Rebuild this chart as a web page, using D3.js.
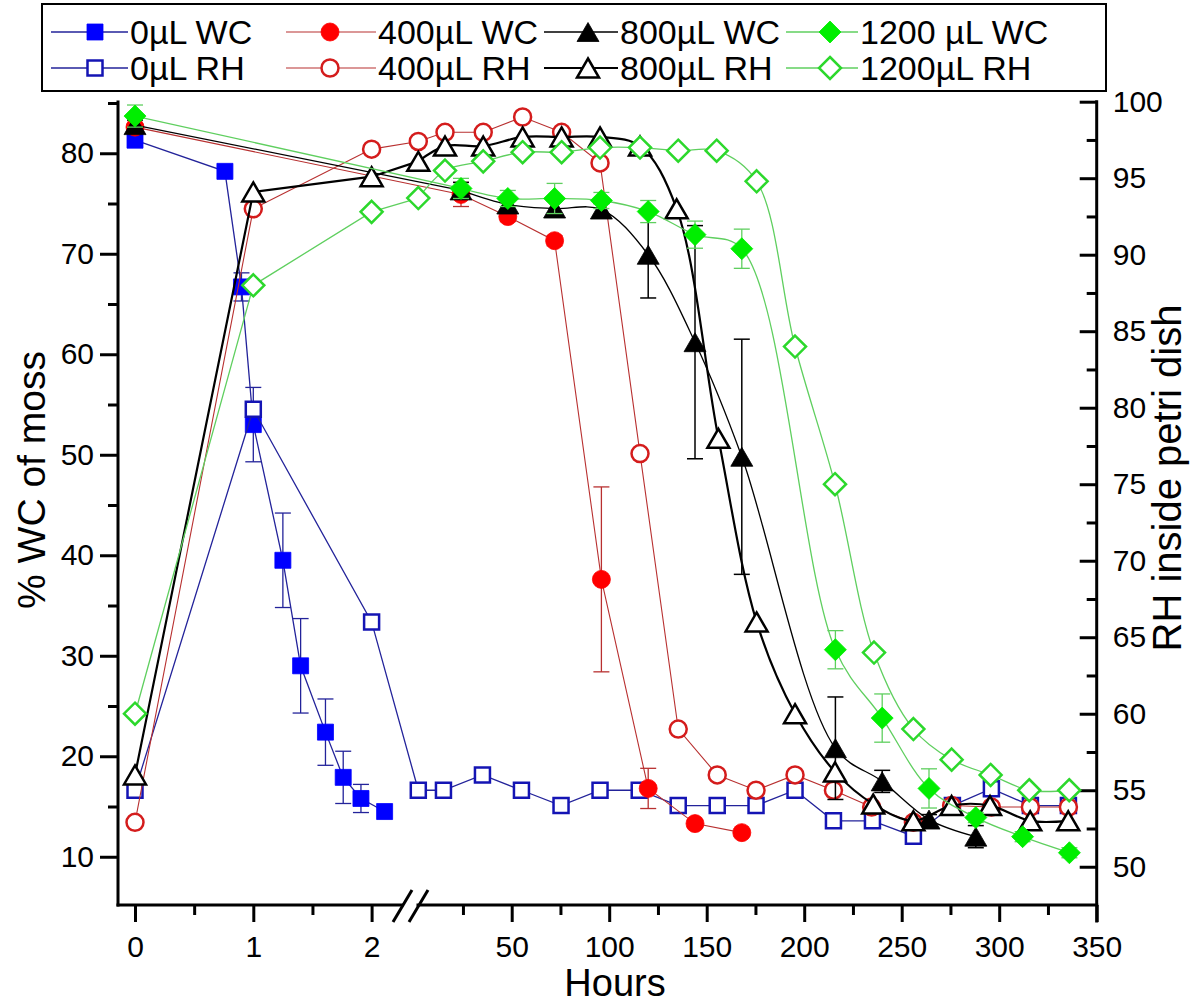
<!DOCTYPE html>
<html><head><meta charset="utf-8">
<script src="https://cdn.jsdelivr.net/npm/d3@7"></script>
<style>
body{margin:0;background:#fff}
svg{display:block;background:#fff}
text{font-family:"Liberation Sans",Arial,Helvetica,sans-serif;fill:#000}
</style>
</head><body>
<svg id="c" width="1193" height="1006"></svg>
<script>
// ---------------- data ----------------
// tick values
const hoursEarlyTicks = [0, 1, 2];
const hoursEarlyMinor = [0.5, 1.5];
const hoursLateTicks = [50, 100, 150, 200, 250, 300, 350];
const hoursLateMinor = [25, 75, 125, 175, 225, 275, 325];
const wcTicks = [10, 20, 30, 40, 50, 60, 70, 80];
const wcMinor = [15, 25, 35, 45, 55, 65, 75, 85];
const rhTicks = [50, 55, 60, 65, 70, 75, 80, 85, 90, 95, 100];
const rhMinor = [52.5, 57.5, 62.5, 67.5, 72.5, 77.5, 82.5, 87.5, 92.5, 97.5];

// legend labels
const seriesNames = ["0\u00b5L WC", "0\u00b5L RH", "400\u00b5L WC", "400\u00b5L RH",
                     "800\u00b5L WC", "800\u00b5L RH", "1200 \u00b5L WC", "1200\u00b5L RH"];

// 0 uL WC (left axis), hours in the first (0-2 h) segment
const wc0_tEarly = [0, 0.76, 0.9, 1, 1.25, 1.4, 1.61, 1.76, 1.91, 2.11];
const wc0_vEarly = [81.3, 78.2, 66.7, 53.0, 39.5, 29.0, 22.4, 17.9, 15.8, 14.5];
const wc0_eEarly = [0, 0, 1.4, 3.7, 4.7, 4.7, 3.3, 2.6, 1.4, 0];
const wc0_tLate = [];
const wc0_vLate = [];
const wc0_eLate = [];

// 0 uL RH (right axis)
const rh0_tEarly = [0, 1, 2];
const rh0_vEarly = [55, 79.9, 66];
const rh0_tLate = [2.1, 15, 35, 55, 75.3, 95.3, 115.4, 135.4, 155.4, 175.3, 195.3, 215, 235, 256, 276, 296, 316, 335.5];
const rh0_vLate = [55, 55, 56, 55, 54, 55, 55, 54, 54, 54, 55, 53, 53, 52, 54, 55.1, 54, 54];

// 400 uL WC
const wc400_tEarly = [0];
const wc400_vEarly = [82.6];
const wc400_eEarly = [0];
const wc400_tLate = [24, 48, 72, 96, 120, 144, 168];
const wc400_vLate = [75.9, 73.7, 71.3, 37.6, 16.8, 13.3, 12.4];
const wc400_eLate = [1.2, 0.5, 0.5, 9.2, 2.0, 0.4, 0.4];

// 400 uL RH
const rh400_tEarly = [0, 1, 2];
const rh400_vEarly = [52.9, 93.0, 96.9];
const rh400_tLate = [2.1, 15.8, 35.4, 55.6, 75.6, 95.3, 115.8, 135.4, 155.4, 175.3, 195.3, 215, 234.6, 256, 275.6, 296, 316, 335.5];
const rh400_vLate = [97.4, 98.0, 98.0, 99.0, 98.0, 96.0, 77.0, 59.0, 56.0, 55.0, 56.0, 55.0, 53.9, 52.9, 54.0, 53.9, 53.9, 53.9];

// 800 uL WC
const wc800_tEarly = [0];
const wc800_vEarly = [82.8];
const wc800_eEarly = [0.5];
const wc800_tLate = [24, 48, 72, 96, 120, 144, 168, 216, 240, 264, 288];
const wc800_vLate = [76.3, 74.9, 74.5, 74.4, 69.9, 61.2, 49.8, 20.8, 17.5, 13.7, 12.0];
const wc800_eLate = [0.8, 0.5, 0.8, 0.6, 4.3, 11.6, 11.7, 5.1, 1.1, 0.5, 1.1];

// 800 uL RH
const rh800_tEarly = [0, 1, 2];
const rh800_vEarly = [56.0, 94.1, 95.1];
const rh800_tLate = [2.1, 15.8, 35.4, 55.6, 75.6, 95.3, 115.8, 134.6, 156, 175.6, 195.3, 215.8, 235.4, 256, 275.6, 295.3, 315.9, 335.4];
const rh800_vLate = [96.1, 97.1, 97.1, 97.7, 97.7, 97.7, 97.1, 93.0, 78.0, 66.0, 60.0, 56.2, 54.1, 53.0, 54.0, 54.0, 53.0, 53.0];

// 1200 uL WC
const wc1200_tEarly = [0];
const wc1200_vEarly = [83.7];
const wc1200_eEarly = [1.1];
const wc1200_tLate = [24, 48, 72, 96, 120, 144, 168, 216, 240, 264, 288, 312, 336];
const wc1200_vLate = [76.5, 75.5, 75.5, 75.3, 74.2, 71.9, 70.5, 30.6, 23.8, 16.8, 13.9, 12.0, 10.4];
const wc1200_eLate = [1.0, 0.8, 1.5, 0.8, 1.1, 1.35, 1.95, 1.9, 2.4, 1.95, 0.5, 0.5, 0.5];

// 1200 uL RH
const rh1200_tEarly = [0, 1, 2];
const rh1200_vEarly = [60.0, 88.0, 92.8];
const rh1200_tLate = [2.1, 15.8, 35.4, 55.6, 75.6, 95.3, 115.8, 135.4, 155.1, 175.6, 195.3, 215.8, 235.8, 256, 275.6, 295.6, 315.4, 335.9];
const rh1200_vLate = [93.7, 95.5, 96.1, 96.7, 96.7, 97.0, 97.0, 96.8, 96.8, 94.8, 84.0, 75.0, 64.0, 59.0, 57.0, 56.0, 55.0, 55.0];

// ---------------- build ----------------
function build(tE, vE, eE, tL, vL, eL) {
  const pts = [];
  tE.forEach((t, i) => pts.push({seg: "e", t, v: vE[i], err: eE ? eE[i] : 0}));
  tL.forEach((t, i) => pts.push({seg: "l", t, v: vL[i], err: eL ? eL[i] : 0}));
  return pts;
}

const series = [
  {name: seriesNames[0], axis: "L", shape: "square", filled: true, color: "#0000ff", line: "#23239a", lw: 1.3, smooth: false,
   pts: build(wc0_tEarly, wc0_vEarly, wc0_eEarly, wc0_tLate, wc0_vLate, wc0_eLate)},
  {name: seriesNames[1], axis: "R", shape: "square", filled: false, color: "#1414b4", line: "#23239a", lw: 1.3, smooth: false,
   pts: build(rh0_tEarly, rh0_vEarly, null, rh0_tLate, rh0_vLate, null)},
  {name: seriesNames[2], axis: "L", shape: "circle", filled: true, color: "#ff0000", line: "#b83030", lw: 1.1, smooth: false,
   pts: build(wc400_tEarly, wc400_vEarly, wc400_eEarly, wc400_tLate, wc400_vLate, wc400_eLate)},
  {name: seriesNames[3], axis: "R", shape: "circle", filled: false, color: "#d41c1c", line: "#b83030", lw: 1.1, smooth: false,
   pts: build(rh400_tEarly, rh400_vEarly, null, rh400_tLate, rh400_vLate, null)},
  {name: seriesNames[4], axis: "L", shape: "triangle", filled: true, color: "#000000", line: "#000000", lw: 1.3, smooth: true,
   pts: build(wc800_tEarly, wc800_vEarly, wc800_eEarly, wc800_tLate, wc800_vLate, wc800_eLate)},
  {name: seriesNames[5], axis: "R", shape: "triangle", filled: false, color: "#000000", line: "#000000", lw: 2.2, smooth: true,
   pts: build(rh800_tEarly, rh800_vEarly, null, rh800_tLate, rh800_vLate, null)},
  {name: seriesNames[6], axis: "L", shape: "diamond", filled: true, color: "#00ee00", line: "#5fcf5f", lw: 1.3, smooth: true,
   pts: build(wc1200_tEarly, wc1200_vEarly, wc1200_eEarly, wc1200_tLate, wc1200_vLate, wc1200_eLate)},
  {name: seriesNames[7], axis: "R", shape: "diamond", filled: false, color: "#2cd82c", line: "#5fcf5f", lw: 1.3, smooth: true,
   pts: build(rh1200_tEarly, rh1200_vEarly, null, rh1200_tLate, rh1200_vLate, null)}
];

// ---------------- scales ----------------
const svg = d3.select("#c");
const xE = d3.scaleLinear().domain([0, 2]).range([135, 371.6]);
const xL = d3.scaleLinear().domain([0, 350]).range([414.2, 1096.7]);
const yL = d3.scaleLinear().domain([5.2, 85.1]).range([905, 102]);
const yR = d3.scaleLinear().domain([47.5, 100]).range([905, 101.7]);
const X = p => p.seg === "e" ? xE(p.t) : xL(p.t);
const Yf = s => (s.axis === "L" ? yL : yR);

const axisLeftX = 118, axisRightX = 1096.7, axisBottomY = 905;

function shapePath(shape, filled) {
  if (shape === "square") { const s = filled ? 8 : 7.5; return `M${-s},${-s}h${2*s}v${2*s}h${-2*s}Z`; }
  if (shape === "circle") { const r = filled ? 9 : 8.5; return `M${-r},0a${r},${r} 0 1,0 ${2*r},0a${r},${r} 0 1,0 ${-2*r},0Z`; }
  if (shape === "triangle") { const w = 22, h = 19; return `M0,${-h/2}L${w/2},${h/2}L${-w/2},${h/2}Z`; }
  if (shape === "diamond") { const s = 11; return `M0,${-s}L${s},0L0,${s}L${-s},0Z`; }
}
function styleMarker(sel, s) {
  sel.attr("d", shapePath(s.shape, s.filled))
     .attr("fill", s.filled ? s.color : "#fff")
     .attr("stroke", s.color)
     .attr("stroke-width", s.filled ? 0.8 : 2.5)
     .attr("stroke-linejoin", "miter");
}

// ---------------- axes ----------------
const gAx = svg.append("g");
function styleAxis(g) {
  g.selectAll(".domain").remove();
  g.selectAll(".tick line").attr("stroke", "#000").attr("stroke-width", 3);
  g.selectAll(".tick text").style("font-size", "30px").attr("fill", "#000");
}
// left
gAx.append("g").attr("transform", `translate(${axisLeftX},0)`)
  .call(d3.axisLeft(yL).tickValues(wcTicks).tickSize(18).tickPadding(6).tickFormat(d3.format("d"))).call(styleAxis);
gAx.append("g").attr("transform", `translate(${axisLeftX},0)`)
  .call(d3.axisLeft(yL).tickValues(wcMinor).tickSize(10).tickFormat("")).call(styleAxis);
// right (ticks inside)
gAx.append("g").attr("transform", `translate(${axisRightX},0)`)
  .call(d3.axisRight(yR).tickValues(rhTicks).tickSize(-17).tickPadding(16).tickFormat(d3.format("d"))).call(styleAxis);
gAx.append("g").attr("transform", `translate(${axisRightX},0)`)
  .call(d3.axisRight(yR).tickValues(rhMinor).tickSize(-10).tickFormat("")).call(styleAxis);
// bottom, early segment
gAx.append("g").attr("transform", `translate(0,${axisBottomY})`)
  .call(d3.axisBottom(xE).tickValues(hoursEarlyTicks).tickSize(17).tickPadding(14).tickFormat(d3.format("d"))).call(styleAxis);
gAx.append("g").attr("transform", `translate(0,${axisBottomY})`)
  .call(d3.axisBottom(xE).tickValues(hoursEarlyMinor).tickSize(10).tickFormat("")).call(styleAxis);
// bottom, late segment
gAx.append("g").attr("transform", `translate(0,${axisBottomY})`)
  .call(d3.axisBottom(xL).tickValues(hoursLateTicks).tickSize(17).tickPadding(14).tickFormat(d3.format("d"))).call(styleAxis);
gAx.append("g").attr("transform", `translate(0,${axisBottomY})`)
  .call(d3.axisBottom(xL).tickValues(hoursLateMinor).tickSize(10).tickFormat("")).call(styleAxis);

// axis lines
const axLine = (x1, y1, x2, y2) => gAx.append("line").attr("x1", x1).attr("y1", y1).attr("x2", x2).attr("y2", y2)
  .attr("stroke", "#000").attr("stroke-width", 3).attr("stroke-linecap", "square");
axLine(axisLeftX, yL.range()[1], axisLeftX, axisBottomY);
axLine(axisRightX, yR.range()[1], axisRightX, axisBottomY + 16);
axLine(axisLeftX, axisBottomY, 402, axisBottomY);
axLine(418, axisBottomY, axisRightX, axisBottomY);
// break marks
gAx.append("line").attr("x1", 393).attr("y1", 922).attr("x2", 412).attr("y2", 890).attr("stroke", "#000").attr("stroke-width", 3);
gAx.append("line").attr("x1", 409).attr("y1", 922).attr("x2", 428).attr("y2", 890).attr("stroke", "#000").attr("stroke-width", 3);

// axis titles
svg.append("text").attr("x", 615).attr("y", 996).attr("text-anchor", "middle").style("font-size", "38px").text("Hours");
svg.append("text").attr("transform", "translate(45,480) rotate(-90)").attr("text-anchor", "middle").style("font-size", "39px").text("% WC of moss");
svg.append("text").attr("transform", "translate(1181,478) rotate(-90)").attr("text-anchor", "middle").style("font-size", "40px").text("RH inside petri dish");

// ---------------- plots ----------------
const gPlot = svg.append("g");
series.forEach(s => {
  const Y = Yf(s);
  const g = gPlot.append("g");
  // straight segments through the early part (up to the first late point), spline afterwards where smoothed
  const firstLate = s.pts.findIndex(p => p.seg === "l");
  const lin = d3.line().x(X).y(p => Y(p.v));
  const parts = [];
  if (!s.smooth || firstLate < 0) {
    parts.push(lin(s.pts));
  } else {
    parts.push(lin(s.pts.slice(0, firstLate + 1)));
    parts.push(d3.line().x(X).y(p => Y(p.v)).curve(d3.curveCatmullRom.alpha(0.5))(s.pts.slice(firstLate)));
  }
  parts.forEach(d => g.append("path").attr("d", d).attr("fill", "none").attr("stroke", s.line).attr("stroke-width", s.lw));
  // error bars
  const eb = s.pts.filter(p => p.err > 0);
  const ge = g.append("g").attr("stroke", s.line).attr("stroke-width", s.color === "#000000" ? 1.5 : 1.3);
  eb.forEach(p => {
    const x = X(p), y1 = Y(p.v - p.err), y2 = Y(p.v + p.err);
    ge.append("line").attr("x1", x).attr("x2", x).attr("y1", y1).attr("y2", y2);
    ge.append("line").attr("x1", x - 8).attr("x2", x + 8).attr("y1", y1).attr("y2", y1);
    ge.append("line").attr("x1", x - 8).attr("x2", x + 8).attr("y1", y2).attr("y2", y2);
  });
  g.selectAll("path.m").data(s.pts).enter().append("path").attr("class", "m")
    .attr("transform", p => `translate(${X(p)},${Y(p.v)})`)
    .call(sel => styleMarker(sel, s));
});

// ---------------- legend ----------------
const gLeg = svg.append("g");
gLeg.append("rect").attr("x", 42).attr("y", 4).attr("width", 1064).attr("height", 87)
  .attr("fill", "#fff").attr("stroke", "#000").attr("stroke-width", 2);
const colMarkerX = [95, 330, 588, 830];
const colTextX = [130, 378, 620, 860];
const rowY = [32, 68];
series.forEach((s, i) => {
  const col = Math.floor(i / 2), row = i % 2;
  const mx = colMarkerX[col], y = rowY[row];
  gLeg.append("line").attr("x1", mx - 44).attr("x2", colTextX[col] - 2).attr("y1", y).attr("y2", y)
    .attr("stroke", s.line).attr("stroke-width", s.lw);
  gLeg.append("path").attr("transform", `translate(${mx},${y})`).call(sel => styleMarker(sel, s));
  gLeg.append("text").attr("x", colTextX[col]).attr("y", y + 12).style("font-size", "34px").text(s.name);
});
</script>
</body></html>
